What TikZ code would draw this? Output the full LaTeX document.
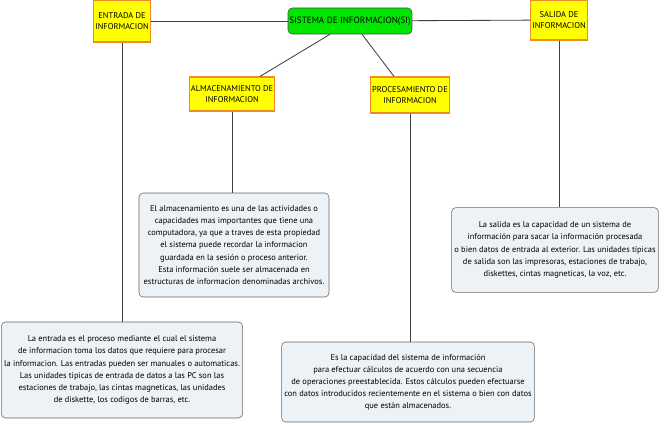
\documentclass[tikz,border=0pt]{standalone}
\usepackage{fontspec}
\setmainfont{PT Sans}
\usetikzlibrary{positioning}
\definecolor{boxyellow}{RGB}{255,255,0}
\definecolor{boxorange}{RGB}{240,140,40}
\definecolor{boxgreen}{RGB}{0,230,0}
\definecolor{boxblue}{RGB}{236,242,246}
\tikzset{
  topic/.style={draw=boxorange, line width=0.8pt, fill=boxyellow, align=center,
    font=\fontsize{6}{7.6}\selectfont, inner sep=1pt},
  root/.style={draw=black!70, fill=boxgreen, rounded corners=3pt, align=center,
    font=\fontsize{6.5}{8}\selectfont, minimum width=3cm, minimum height=0.65cm, inner sep=1pt},
  note/.style={draw=black!60, fill=boxblue, rounded corners=3pt, align=center,
    font=\fontsize{6}{8.6}\selectfont, inner sep=2pt},
  link/.style={draw=black!75, line width=0.6pt}
}
\begin{document}
\begin{tikzpicture}[x=0.025cm, y=-0.025cm]
      \useasboundingbox (0,0) rectangle (666,427);

      \node[root] (si) at (350,21) {SISTEMA DE INFORMACION(SI)};

      \node[topic, minimum width=1.35cm, minimum height=1.05cm] (entrada) at (122,21) {ENTRADA DE\\INFORMACION};
      \node[topic, minimum width=1.42cm, minimum height=1cm] (salida) at (559,20) {SALIDA DE\\INFORMACION};
      \node[topic, minimum width=2cm, minimum height=0.85cm] (almac) at (232,94) {ALMACENAMIENTO DE\\INFORMACION};
      \node[topic, minimum width=1.85cm, minimum height=0.9cm] (proces) at (410,95) {PROCESAMIENTO DE\\INFORMACION};

      \node[note, minimum width=4.75cm, minimum height=2.6cm] (almactxt) at (234,245)
        {El almacenamiento es una de las actividades o\\
         capacidades mas importantes que tiene una\\
         computadora, ya que a traves de esta propiedad\\
         el sistema puede recordar la informacion\\
         guardada en la sesión o proceso anterior.\\
         Esta información suele ser almacenada en\\
         estructuras de informacion denominadas archivos.};
      \node[note, minimum width=4.78cm, minimum height=2.12cm] (salidatxt) at (555,250)
        {La salida es la capacidad de un sistema de\\
         información para sacar la información procesada\\
         o bien datos de entrada al exterior. Las unidades típicas\\
         de salida son las impresoras, estaciones de trabajo,\\
         diskettes, cintas magneticas, la voz, etc.};
      \node[note, minimum width=5.95cm, minimum height=2.4cm] (entradatxt) at (122,370)
        {La entrada es el proceso mediante el cual el sistema\\
         de informacion toma los datos que requiere para procesar\\
         la informacion. Las entradas pueden ser manuales o automaticas.\\
         Las unidades tipicas de entrada de datos a las PC son las\\
         estaciones de trabajo, las cintas magneticas, las unidades\\
         de diskette, los codigos de barras, etc.};
      \node[note, minimum width=6cm, minimum height=2cm] (procestxt) at (408,382)
        {Es la capacidad del sistema de información\\
         para efectuar cálculos de acuerdo con una secuencia\\
         de operaciones preestablecida. Estos cálculos pueden efectuarse\\
         con datos introducidos recientemente en el sistema o bien con datos\\
         que están almacenados.};

      % ramas principales
      \draw[link] (entrada) -- (si);
      \draw[link] (si) -- (salida);
      \draw[link] ([xshift=-0.5cm]si.south) -- ([xshift=0.7cm]almac.north);
      \draw[link] ([xshift=0.3cm]si.south) -- ([xshift=-0.4cm]proces.north);

      % notas
      \draw[link] (entrada) -- (entrada |- entradatxt.north);
      \draw[link] (almac) -- (almac |- almactxt.north);
      \draw[link] (proces) -- (proces |- procestxt.north);
      \draw[link] (salida) -- (salida |- salidatxt.north);
\end{tikzpicture}
\end{document}
